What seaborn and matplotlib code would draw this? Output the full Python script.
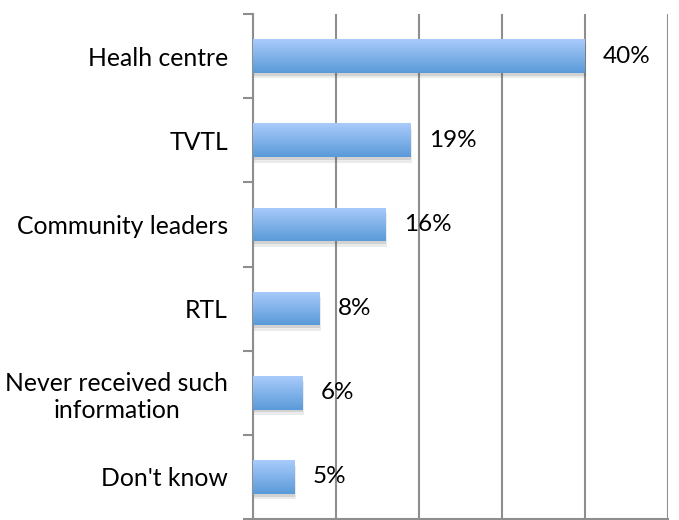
import numpy as np
import pandas as pd
import matplotlib
matplotlib.use("Agg")
import matplotlib.pyplot as plt
import matplotlib.patheffects as pe
from matplotlib.colors import LinearSegmentedColormap
import seaborn as sns

# Data
sources = ["Healh centre", "TVTL", "Community leaders", "RTL",
           "Never received such\ninformation", "Don't know"]
percent = [40, 19, 16, 8, 6, 5]

df = pd.DataFrame({"Source": sources, "Percent": percent})

sns.set_style("white")
plt.rcParams["font.family"] = ["Lato", "DejaVu Sans"]
plt.rcParams["text.color"] = "black"
plt.rcParams["ytick.color"] = "black"

fig = plt.figure(figsize=(6.79, 5.2), dpi=100)
ax = fig.add_axes([253 / 679, 1 / 520, 415 / 679, 505 / 520])

sns.barplot(data=df, x="Percent", y="Source", orient="h", width=0.4,
            color="#7fb0ee", linewidth=0, ax=ax, zorder=3)

# gradient fill + soft shadow, excel style
grad = LinearSegmentedColormap.from_list("bar", ["#a9cbfb", "#5a9ad8"])
for p in ax.patches:
    p.set_edgecolor("none")
    p.set_path_effects([
        pe.SimplePatchShadow(offset=(1, -4), alpha=0.10, shadow_rgbFace="#444444"),
        pe.SimplePatchShadow(offset=(0.5, -2), alpha=0.15, shadow_rgbFace="#444444"),
        pe.Normal()])
    x0, y0 = p.get_x(), p.get_y()
    w, h = p.get_width(), p.get_height()
    im = ax.imshow(np.linspace(0, 1, 100).reshape(-1, 1), cmap=grad, aspect="auto",
                   extent=[x0, x0 + w, y0 + h, y0], zorder=4)
    im.set_clip_path(p)

ax.set_xlim(0, 50)
ax.set_ylim(5.5, -0.5)

ax.bar_label(ax.containers[0], labels=[f"{v}%" for v in percent],
             padding=13, fontsize=17.5, color="black", zorder=5)

# gridlines
ax.set_xticks([0, 10, 20, 30, 40, 50])
ax.set_xticklabels([])
ax.tick_params(axis="x", length=0)
ax.grid(axis="x", color="#8e8e8e", linewidth=1.5, zorder=0)
ax.set_axisbelow(True)

# category ticks at band edges, labels at centres
ax.set_yticks(np.arange(len(sources)))
ax.set_yticks(np.arange(-0.5, len(sources)), minor=True)
ax.tick_params(axis="y", which="major", length=0, pad=18, labelsize=17.8, labelcolor="black")
ax.tick_params(axis="y", which="minor", length=7, width=1.5, color="#8e8e8e", left=True)
for lab in ax.get_yticklabels():
    lab.set_multialignment("center")
    lab.set_linespacing(1.22)

ax.set_xlabel("")
ax.set_ylabel("")
for side in ["top", "right"]:
    ax.spines[side].set_visible(False)
for side in ["left", "bottom"]:
    ax.spines[side].set_color("#8e8e8e")
    ax.spines[side].set_linewidth(1.5)

fig.savefig("out.png", dpi=100)
